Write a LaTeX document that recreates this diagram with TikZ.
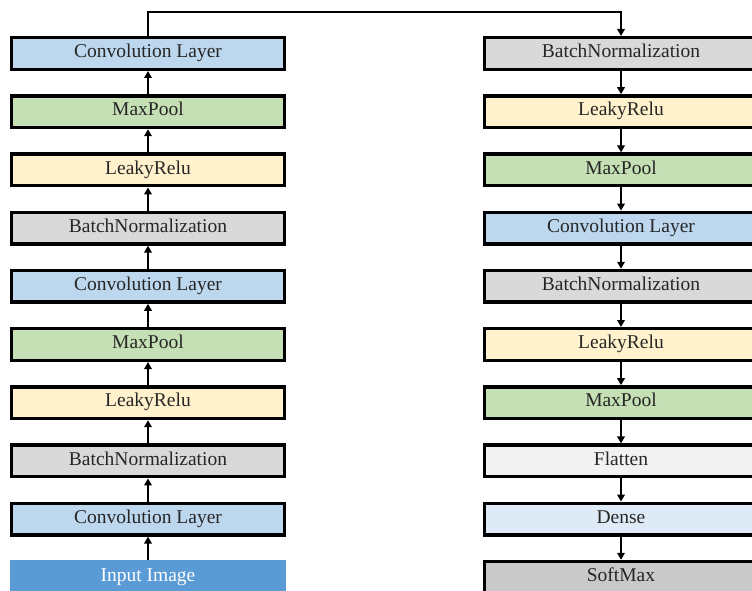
\documentclass[tikz,border=0pt]{standalone}
\usepackage{fontspec}
\setmainfont{Liberation Serif}
\usetikzlibrary{arrows.meta}
\definecolor{convc}{HTML}{BDD7EE}
\definecolor{poolc}{HTML}{C5E0B4}
\definecolor{reluc}{HTML}{FFF2CC}
\definecolor{bnc}{HTML}{D9D9D9}
\definecolor{flatc}{HTML}{F2F2F2}
\definecolor{densec}{HTML}{DEEBF7}
\definecolor{softc}{HTML}{C9C9C9}
\definecolor{inc}{HTML}{5B9BD5}
\definecolor{txtc}{HTML}{262626}
\tikzset{
  layer/.style={draw=black, line width=3.4pt, minimum width=272.6pt, minimum height=31.6pt,
    inner sep=0pt, text height=13pt, text depth=4.5pt,
    font=\fontsize{19.5}{22}\selectfont, text=txtc},
  inbox/.style={draw=inc, fill=inc, line width=3.4pt, minimum width=272.6pt, minimum height=31.6pt,
    inner sep=0pt, text height=13pt, text depth=4.5pt,
    font=\fontsize{19.5}{22}\selectfont, text=white},
  arr/.style={line width=2.8pt, -{Triangle[length=7pt,width=7.5pt]}},
}
\begin{document}
\begin{tikzpicture}[x=1pt,y=1pt]
\useasboundingbox (0,0) rectangle (752,-591);
\fill[white] (0,0) rectangle (752,-591);
\clip (0,0) rectangle (752,-591);
% left column (bottom to top flow)
\node[layer, fill=convc] (l1) at (148,-53.5) {Convolution Layer};
\node[layer, fill=poolc] (l2) at (148,-111.7) {MaxPool};
\node[layer, fill=reluc] (l3) at (148,-169.9) {LeakyRelu};
\node[layer, fill=bnc]   (l4) at (148,-228.1) {BatchNormalization};
\node[layer, fill=convc] (l5) at (148,-286.3) {Convolution Layer};
\node[layer, fill=poolc] (l6) at (148,-344.5) {MaxPool};
\node[layer, fill=reluc] (l7) at (148,-402.7) {LeakyRelu};
\node[layer, fill=bnc]   (l8) at (148,-460.9) {BatchNormalization};
\node[layer, fill=convc] (l9) at (148,-519.1) {Convolution Layer};
\node[inbox] (in) at (148,-577.3) {Input Image};
% right column
\node[layer, fill=bnc]    (r1) at (621,-53.5) {BatchNormalization};
\node[layer, fill=reluc]  (r2) at (621,-111.7) {LeakyRelu};
\node[layer, fill=poolc]  (r3) at (621,-169.9) {MaxPool};
\node[layer, fill=convc]  (r4) at (621,-228.1) {Convolution Layer};
\node[layer, fill=bnc]    (r5) at (621,-286.3) {BatchNormalization};
\node[layer, fill=reluc]  (r6) at (621,-344.5) {LeakyRelu};
\node[layer, fill=poolc]  (r7) at (621,-402.7) {MaxPool};
\node[layer, fill=flatc]  (r8) at (621,-460.9) {Flatten};
\node[layer, fill=densec] (r9) at (621,-519.1) {Dense};
\node[layer, fill=softc]  (r10) at (621,-577.3) {SoftMax};
% left arrows (upward)
\draw[arr] (in.north) -- (l9.south);
\draw[arr] (l9.north) -- (l8.south);
\draw[arr] (l8.north) -- (l7.south);
\draw[arr] (l7.north) -- (l6.south);
\draw[arr] (l6.north) -- (l5.south);
\draw[arr] (l5.north) -- (l4.south);
\draw[arr] (l4.north) -- (l3.south);
\draw[arr] (l3.north) -- (l2.south);
\draw[arr] (l2.north) -- (l1.south);
% top connector
\draw[arr] (l1.north) -- ++(0,24) -| (r1.north);
% right arrows (downward)
\draw[arr] (r1.south) -- (r2.north);
\draw[arr] (r2.south) -- (r3.north);
\draw[arr] (r3.south) -- (r4.north);
\draw[arr] (r4.south) -- (r5.north);
\draw[arr] (r5.south) -- (r6.north);
\draw[arr] (r6.south) -- (r7.north);
\draw[arr] (r7.south) -- (r8.north);
\draw[arr] (r8.south) -- (r9.north);
\draw[arr] (r9.south) -- (r10.north);
\end{tikzpicture}
\end{document}
